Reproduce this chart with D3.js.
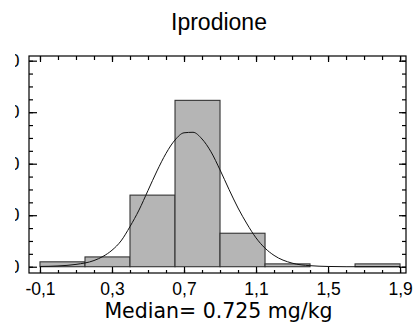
<!DOCTYPE html>
<html>
<head>
<meta charset="utf-8">
<script src="https://cdn.jsdelivr.net/npm/d3@7"></script>
<style>
  html, body { margin: 0; padding: 0; background: #fff; }
  svg { display: block; }
</style>
</head>
<body>
<svg id="chart" width="414" height="327"></svg>
<script>
// ---- data ----
const title = "Iprodione";
const xLabel = "Median= 0.725 mg/kg";
const binStarts = [-0.1, 0.15, 0.4, 0.65, 0.9, 1.15, 1.4, 1.65];
const binWidth = 0.25;
const binValues = [0.95, 1.9, 13.9, 32.3, 6.5, 0.55, 0, 0.55];
const curveX = [-0.1, 0.0, 0.1, 0.2, 0.25, 0.3, 0.35, 0.4, 0.45, 0.5, 0.55, 0.6, 0.65, 0.7, 0.75, 0.8, 0.85, 0.9, 0.95, 1.0, 1.05, 1.1, 1.15, 1.2, 1.3, 1.4, 1.5, 1.6, 1.9];
const curveY = [0.05, 0.15, 0.45, 1.2, 2.0, 3.2, 5.0, 7.8, 11.0, 14.8, 18.6, 22.0, 24.6, 26.0, 26.1, 24.8, 22.3, 18.8, 15.0, 11.4, 8.3, 5.6, 3.6, 2.2, 0.7, 0.2, 0.05, 0.0, 0.0];
const xMajorTicks = [-0.1, 0.3, 0.7, 1.1, 1.5, 1.9];
const xTickLabels = ["-0,1", "0,3", "0,7", "1,1", "1,5", "1,9"];
const yMajorTicks = [0, 10, 20, 30, 40];
const yTickLabels = ["0", "10", "20", "30", "40"];

// ---- layout ----
const svg = d3.select("#chart");
const L = 29, R = 406, T = 56, B = 273;
const x = d3.scaleLinear().domain([-0.161, 1.933]).range([L, R]);
const y = d3.scaleLinear().domain([-1.22, 40.91]).range([B, T]);

const xMinor = d3.range(-0.1, 1.9001, 0.1).map(v => +v.toFixed(2));
const yMinor = d3.range(0, 40.001, 2.5);

// bars
svg.append("g").selectAll("rect")
  .data(binStarts.map((s, i) => ({ s, v: binValues[i] })))
  .join("rect")
  .attr("x", d => x(d.s))
  .attr("width", d => x(d.s + binWidth) - x(d.s))
  .attr("y", d => y(d.v))
  .attr("height", d => y(0) - y(d.v))
  .attr("fill", "#b5b5b5")
  .attr("stroke", "#333")
  .attr("stroke-width", 1.1);

// fitted curve
const line = d3.line().x(d => x(d[0])).y(d => y(d[1])).curve(d3.curveMonotoneX);
svg.append("path")
  .datum(curveX.map((v, i) => [v, curveY[i]]))
  .attr("d", line)
  .attr("fill", "none")
  .attr("stroke", "#111")
  .attr("stroke-width", 1);

// frame
svg.append("rect")
  .attr("x", L).attr("y", T).attr("width", R - L).attr("height", B - T)
  .attr("fill", "none").attr("stroke", "#000").attr("stroke-width", 1.2);

function styleAxis(g) {
  g.select(".domain").remove();
  g.selectAll(".tick line").attr("stroke", "#000").attr("stroke-width", 1.2);
}

// bottom axis: minor ticks
svg.append("g").attr("transform", `translate(0,${B})`)
  .call(d3.axisBottom(x).tickValues(xMinor).tickSize(-3).tickFormat(""))
  .call(styleAxis);
// bottom axis: major ticks + labels
const bx = svg.append("g").attr("transform", `translate(0,${B})`)
  .call(d3.axisBottom(x).tickValues(xMajorTicks).tickSize(-6).tickPadding(10)
    .tickFormat((d, i) => xTickLabels[i]))
  .call(styleAxis);
bx.selectAll("text").attr("font-family", "Liberation Sans, Arial, sans-serif")
  .attr("font-size", 17.5).attr("fill", "#000");

// top axis ticks
svg.append("g").attr("transform", `translate(0,${T})`)
  .call(d3.axisTop(x).tickValues(xMinor).tickSize(-4).tickFormat(""))
  .call(styleAxis);
svg.append("g").attr("transform", `translate(0,${T})`)
  .call(d3.axisTop(x).tickValues(xMajorTicks).tickSize(-6).tickFormat(""))
  .call(styleAxis);

// left axis (labels are cut at the left edge, as in the reference)
svg.append("g").attr("transform", `translate(${L},0)`)
  .call(d3.axisLeft(y).tickValues(yMinor).tickSize(-4).tickFormat(""))
  .call(styleAxis);
svg.append("defs").append("clipPath").attr("id", "leftclip")
  .append("rect").attr("x", 15 - L).attr("y", 0).attr("width", 120).attr("height", 327);
const ly = svg.append("g").attr("transform", `translate(${L},0)`)
  .attr("clip-path", "url(#leftclip)")
  .call(d3.axisLeft(y).tickValues(yMajorTicks).tickSize(-8).tickPadding(9.5)
    .tickFormat((d, i) => yTickLabels[i]))
  .call(styleAxis);
ly.selectAll("text").attr("font-family", "Liberation Sans, Arial, sans-serif")
  .attr("font-size", 17.5).attr("fill", "#000");

// right axis
svg.append("g").attr("transform", `translate(${R},0)`)
  .call(d3.axisRight(y).tickValues(yMinor).tickSize(-4).tickFormat(""))
  .call(styleAxis);
svg.append("g").attr("transform", `translate(${R},0)`)
  .call(d3.axisRight(y).tickValues(yMajorTicks).tickSize(-7).tickFormat(""))
  .call(styleAxis);

// title
svg.append("text")
  .attr("x", 219).attr("y", 30)
  .attr("text-anchor", "middle")
  .attr("font-family", "Liberation Sans, Arial, sans-serif")
  .attr("font-size", 23)
  .attr("fill", "#000")
  .text(title);

// x label
svg.append("text")
  .attr("x", 218.5).attr("y", 318)
  .attr("text-anchor", "middle")
  .attr("font-family", "DejaVu Sans, sans-serif")
  .attr("font-size", 20.5)
  .attr("fill", "#000")
  .text(xLabel);
</script>
</body>
</html>
